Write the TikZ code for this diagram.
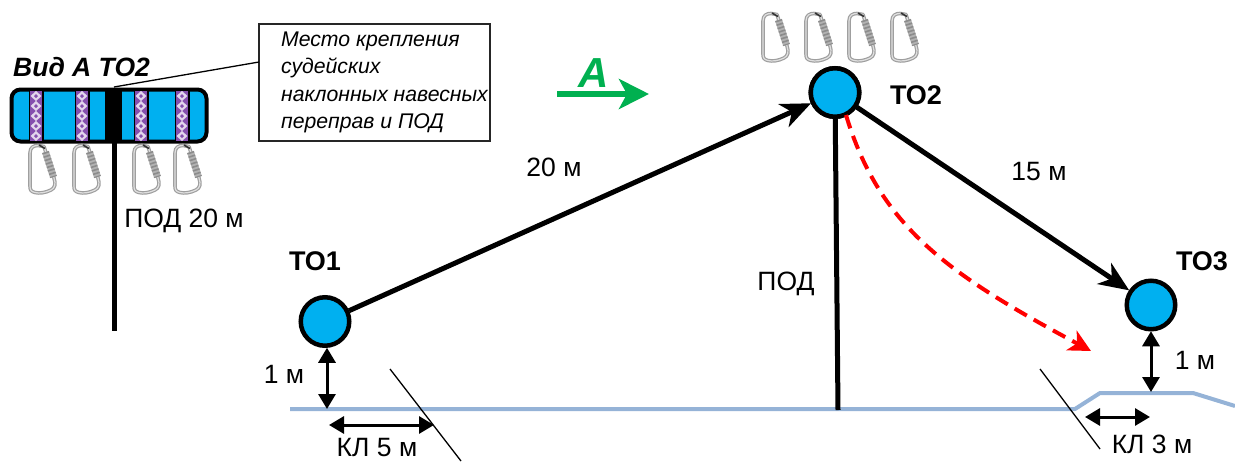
\documentclass[tikz,border=0pt]{standalone}
\usepackage{fontspec}
\setmainfont{Liberation Sans}
\usetikzlibrary{arrows.meta,calc}
\definecolor{bluefill}{HTML}{00B0F0}
\definecolor{ground}{HTML}{95B3D7}
\definecolor{greenarrow}{HTML}{00B050}
\definecolor{strip}{HTML}{7030A0}
\tikzset{
  x=1pt,y=-1pt,
  anchorpt/.style={circle,draw=black,fill=bluefill,line width=4.5pt,minimum size=48.5pt,inner sep=0pt,outer sep=2pt},
  rope/.style={line width=5pt,draw=black},
  bighead/.style={-{Stealth[length=30pt,width=25pt,inset=9pt]},rope},
  dimline/.style={line width=3pt,draw=black,{Stealth[length=15pt,width=17pt,inset=0pt]}-{Stealth[length=15pt,width=17pt,inset=0pt]}},
  lbl/.style={font=\fontsize{26.5}{28}\selectfont,inner sep=0pt},
  blbl/.style={font=\fontsize{27}{28}\selectfont\bfseries,inner sep=0pt},
  thinline/.style={line width=1.3pt,draw=black},
  carabiner/.pic={
    \path[draw=gray!75,line width=3.6pt,line join=round] (3,9) .. controls (3,3) and (7,1.5) .. (11,1.5) -- (17,2.5) -- (27,34) .. controls (29,40) and (28,44) .. (24,46) .. controls (18,49) and (12,49.5) .. (8,48.5) .. controls (4,47.5) and (3,46) .. (3,42) -- cycle;
    \path[draw=gray!25,line width=1.2pt,line join=round] (3,9) .. controls (3,3) and (7,1.5) .. (11,1.5) -- (17,2.5) -- (27,34) .. controls (29,40) and (28,44) .. (24,46) .. controls (18,49) and (12,49.5) .. (8,48.5) .. controls (4,47.5) and (3,46) .. (3,42) -- cycle;
    \path[draw=gray!60,line width=7pt] (18.5,8) -- (26.5,33);
    \path[draw=gray!110!black,line width=7pt,dash pattern=on 1.6pt off 2pt] (18.5,8) -- (26.5,33);
    \path[draw=black!80,line width=1.6pt] (12,1) -- (18,4.5);
  },
  purplestrip/.pic={
    \fill[strip!85!white] (0,0) rectangle (12,50);
    \foreach \k in {0,...,4}{
      \fill[white!80!strip] (6,{5+\k*10-5}) -- (11.5,{5+\k*10}) -- (6,{5+\k*10+5}) -- (0.5,{5+\k*10}) -- cycle;
      \fill[strip!85!white] (6,{5+\k*10-2}) -- (8,{5+\k*10}) -- (6,{5+\k*10+2}) -- (4,{5+\k*10}) -- cycle;
    }
  },
}
\begin{document}
\begin{tikzpicture}
\useasboundingbox (0,0) rectangle (1235,461);
% ground
\coordinate (g0) at (290,409);
\coordinate (g1) at (1075,409);
\coordinate (g2) at (1100,393);
\coordinate (g3) at (1193,393);
\coordinate (g4) at (1235,406);
\draw[line width=4pt,draw=ground,line join=round] (g0) -- (g1) -- (g2) -- (g3) -- (g4);
% control-line markers
\coordinate (kl1a) at (390,369); \coordinate (kl1b) at (461,461);
\coordinate (kl3a) at (1040,369); \coordinate (kl3b) at (1100,449);
\draw[thinline] (kl1a) -- (kl1b);
\draw[thinline] (kl3a) -- (kl3b);
% anchor points
\node[anchorpt] (TO1) at (325,321.5) {};
\node[anchorpt] (TO2) at (835,92.5) {};
\node[anchorpt] (TO3) at (1151,305) {};
\coordinate (podfoot) at (838,410);
\draw[rope] (TO2) -- (podfoot);
\node[anchorpt] at (TO2) {};
\draw[bighead] (TO1) -- (TO2);
\draw[bighead] (TO2) -- (TO3);
% red descent
\coordinate (redA) at (846,115);
\coordinate (redB) at (1091,351);
\draw[draw=red,line width=4pt,dash pattern=on 14pt off 8pt,-{Stealth[length=22pt,width=22pt,inset=6pt]}] (redA) .. controls (880,228) and (950,275) .. (redB);
% dimensions
\coordinate (d1a) at (327,347); \coordinate (d1b) at (327,409);
\coordinate (d3a) at (1151,331); \coordinate (d3b) at (1151,392);
\draw[dimline] (TO1.south -| d1a) -- (d1b);
\draw[dimline] (TO3.south) -- (d3b);
\coordinate (k5a) at (329,425); \coordinate (k5b) at (434,425);
\coordinate (k3a) at (1085,417); \coordinate (k3b) at (1150,417);
\draw[dimline] (k5a) -- (k5b);
\draw[dimline] (k3a) -- (k3b);
% green arrow
\coordinate (gA) at (557,94); \coordinate (gB) at (649,94);
\draw[draw=greenarrow,line width=5.5pt,-{Stealth[length=30pt,width=30pt,inset=8pt]}] (gA) -- (gB);
\node[font=\fontsize{42}{42}\selectfont\bfseries\itshape,text=greenarrow,inner sep=0pt] (A) at (594,73) {А};
% strap view
\coordinate (ropetop) at (114,140); \coordinate (ropeend) at (114,331);
\draw[rope] (ropetop) -- (ropeend);
\node[anchor=north west,draw=black,fill=bluefill,line width=4pt,rounded corners=9pt,minimum width=195pt,minimum height=52pt,inner sep=0pt,outer sep=0pt] (strap) at (11.5,89.5) {};
\fill[black] (105,88) rectangle (122,143);
\foreach \x in {30,76,135,176}{
  \fill[black] (\x-1.5,90) rectangle (\x+13.5,142);
}
\pic at (30,91) {purplestrip};
\pic at (76,91) {purplestrip};
\pic at (135,91) {purplestrip};
\pic at (176,91) {purplestrip};
\foreach \x in {27,71,131,172}{\pic at (\x,144) {carabiner};}
\foreach \x in {760,803,846,889}{\pic at (\x,12) {carabiner};}
% callout
\node[anchor=north west,draw=black!85,fill=white,line width=1.3pt,minimum width=231pt,minimum height=117pt,inner xsep=0pt,inner ysep=0pt,outer sep=0pt,font=\fontsize{21.2}{27.6}\selectfont\itshape,align=left] (box) at (259,24) {\hspace*{20pt}Место крепления\\\hspace*{20pt}судейских\\\hspace*{20pt}наклонных навесных\\\hspace*{20pt}переправ и ПОД};
\coordinate (callA) at (114,87);
\coordinate (callB) at (259,62);
\draw[thinline] (callA) -- (callB);
% labels
\node[anchor=west,inner sep=0pt,font=\fontsize{26.5}{28}\selectfont\bfseries\itshape] (vid) at (13,67) {Вид А ТО2};
\node[lbl] (l20) at (554,167) {20 м};
\node[lbl] (l15) at (1039,172) {15 м};
\node[lbl] (lpod) at (786,284) {ПОД};
\node[lbl] (lpod20) at (184,221) {ПОД 20 м};
\node[lbl] (l1a) at (284,374) {1 м};
\node[lbl] (l1b) at (1195,360) {1 м};
\node[lbl] (lk5) at (377,448) {КЛ 5 м};
\node[lbl] (lk3) at (1152,444) {КЛ 3 м};
\node[blbl] (nTO1) at (315,261) {ТО1};
\node[blbl] (nTO2) at (916,95) {ТО2};
\node[blbl] (nTO3) at (1202,261) {ТО3};
\end{tikzpicture}
\end{document}
